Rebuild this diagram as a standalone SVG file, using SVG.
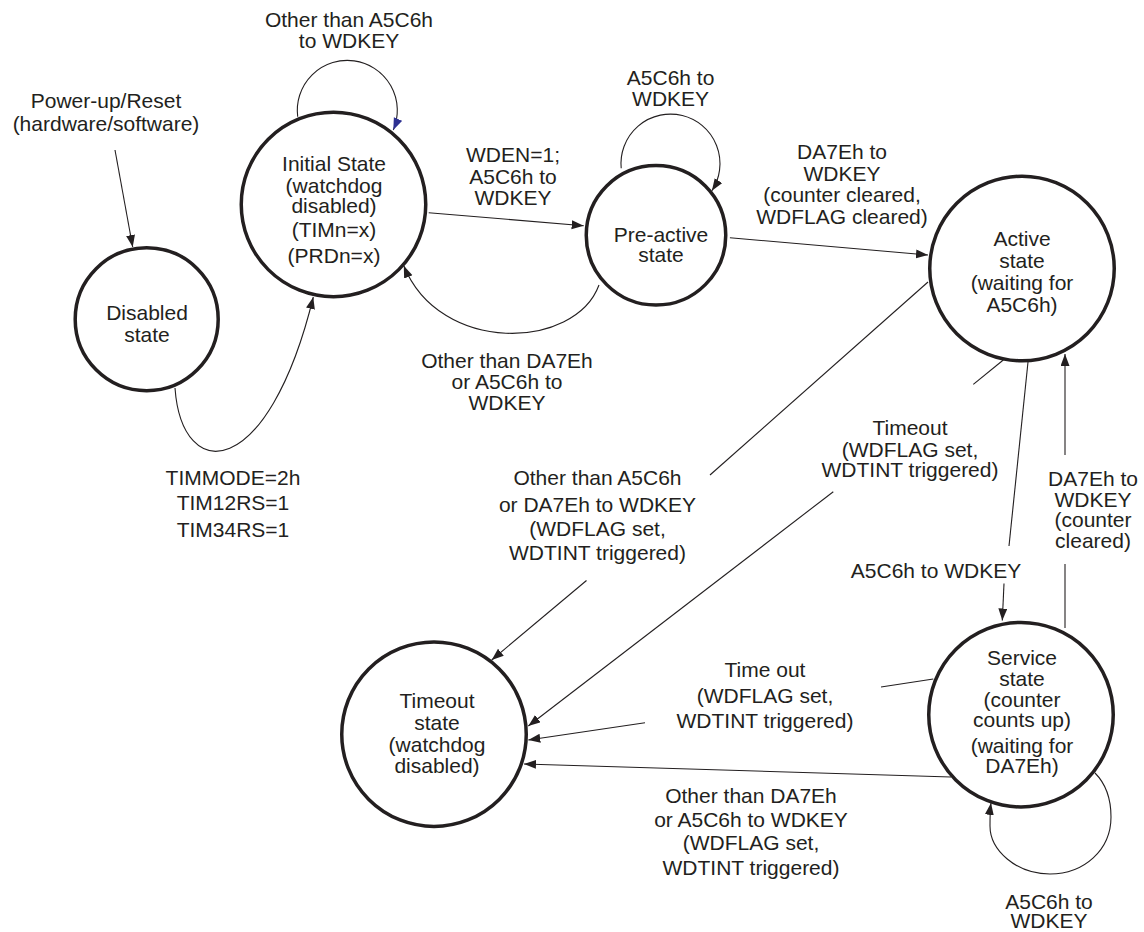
<svg xmlns="http://www.w3.org/2000/svg" width="1144" height="932" viewBox="0 0 1144 932">
<defs>
<style>
.st{fill:#ffffff;stroke:#231f20;stroke-width:3.5}
.ln{fill:none;stroke:#231f20;stroke-width:1.1}
.t{font-family:"Liberation Sans",Arial,sans-serif;font-size:21px;fill:#231f20;text-anchor:middle}
</style>
<marker id="ah" markerUnits="userSpaceOnUse" markerWidth="13" markerHeight="10" refX="12" refY="4.5" orient="auto"><path d="M0,0 L12,4.5 L0,9 z" fill="#231f20"/></marker>
<marker id="ahb" markerUnits="userSpaceOnUse" markerWidth="13" markerHeight="10" refX="12" refY="4.5" orient="auto"><path d="M0,0 L12,4.5 L0,9 z" fill="#2e3192"/></marker>
</defs>
<rect width="1144" height="932" fill="#ffffff"/>

<g id="connectors">
<line class="ln" x1="115" y1="150" x2="132.7" y2="247" marker-end="url(#ah)"/>
<path class="ln" d="M175,388 C182,485 268,482 313.3,297" marker-end="url(#ah)"/>
<path class="ln" d="M297.7,116.7 A50,50 0 1 1 393.3,130" marker-end="url(#ahb)"/>
<line class="ln" x1="428.7" y1="212.7" x2="583.7" y2="225.7" marker-end="url(#ah)"/>
<path class="ln" d="M599,285 C575,350 440,355 403.8,265.7" marker-end="url(#ah)"/>
<path class="ln" d="M621.2,168.3 A49.5,49.5 0 1 1 711.9,190.7" marker-end="url(#ah)"/>
<line class="ln" x1="729.9" y1="237.7" x2="928" y2="255" marker-end="url(#ah)"/>
<line class="ln" x1="928" y1="282" x2="710" y2="475"/>
<line class="ln" x1="586.5" y1="580.5" x2="491.7" y2="660" marker-end="url(#ah)"/>
<line class="ln" x1="1003.3" y1="360" x2="973.3" y2="384.4"/>
<line class="ln" x1="833.3" y1="491.7" x2="528.3" y2="726" marker-end="url(#ah)"/>
<line class="ln" x1="1028" y1="362" x2="1009" y2="546"/>
<line class="ln" x1="1004" y1="583.5" x2="1002.3" y2="620.5" marker-end="url(#ah)"/>
<line class="ln" x1="1065" y1="628" x2="1065" y2="564"/>
<line class="ln" x1="1065" y1="455" x2="1065" y2="354" marker-end="url(#ah)"/>
<line class="ln" x1="933.3" y1="679" x2="881" y2="687"/>
<line class="ln" x1="645" y1="722.7" x2="528.3" y2="740" marker-end="url(#ah)"/>
<line class="ln" x1="951" y1="777" x2="524" y2="764" marker-end="url(#ah)"/>
<path class="ln" d="M1095,773 C1107,785 1111,800 1111,817 C1111,850 1084,874 1050,874 C1016,874 990,850 990,826 C990,816 990,810 991,803" marker-end="url(#ah)"/>
</g>

<g id="disabled">
<circle class="st" cx="146.7" cy="319.2" r="71.5"/>
<text class="t"><tspan x="147" y="320">Disabled</tspan><tspan x="147" y="342">state</tspan></text>
</g>

<g id="initial">
<circle class="st" cx="333.5" cy="204.4" r="92.25"/>
<text class="t"><tspan x="334" y="171">Initial State</tspan><tspan x="334" y="193">(watchdog</tspan><tspan x="334" y="213">disabled)</tspan><tspan x="334" y="237">(TIMn=x)</tspan><tspan x="334" y="263">(PRDn=x)</tspan></text>
</g>

<g id="preactive">
<circle class="st" cx="656" cy="235.3" r="69.75"/>
<text class="t"><tspan x="661" y="242">Pre-active</tspan><tspan x="661" y="262">state</tspan></text>
</g>

<g id="active">
<circle class="st" cx="1022" cy="268.5" r="92.25"/>
<text class="t"><tspan x="1022" y="246">Active</tspan><tspan x="1022" y="268">state</tspan><tspan x="1022" y="290">(waiting for</tspan><tspan x="1022" y="312">A5C6h)</tspan></text>
</g>

<g id="service">
<circle class="st" cx="1021" cy="714.7" r="92.25"/>
<text class="t"><tspan x="1022" y="665">Service</tspan><tspan x="1022" y="686">state</tspan><tspan x="1022" y="707">(counter</tspan><tspan x="1022" y="727">counts up)</tspan><tspan x="1022" y="753">(waiting for</tspan><tspan x="1022" y="773">DA7Eh)</tspan></text>
</g>

<g id="timeout">
<circle class="st" cx="434" cy="734.2" r="92.25"/>
<text class="t"><tspan x="437" y="708">Timeout</tspan><tspan x="437" y="730">state</tspan><tspan x="437" y="752">(watchdog</tspan><tspan x="437" y="773">disabled)</tspan></text>
</g>

<g id="labels">
<text class="t"><tspan x="349" y="27">Other than A5C6h</tspan><tspan x="349" y="48">to WDKEY</tspan></text>
<text class="t"><tspan x="106" y="108">Power-up/Reset</tspan><tspan x="106" y="131">(hardware/software)</tspan></text>
<text class="t"><tspan x="513" y="162">WDEN=1;</tspan><tspan x="513" y="184">A5C6h to</tspan><tspan x="513" y="205">WDKEY</tspan></text>
<text class="t"><tspan x="670.6" y="85">A5C6h to</tspan><tspan x="670.6" y="106">WDKEY</tspan></text>
<text class="t"><tspan x="842" y="159">DA7Eh to</tspan><tspan x="842" y="181">WDKEY</tspan><tspan x="842" y="202">(counter cleared,</tspan><tspan x="842" y="224">WDFLAG cleared)</tspan></text>
<text class="t"><tspan x="507" y="368">Other than DA7Eh</tspan><tspan x="507" y="389">or A5C6h to</tspan><tspan x="507" y="410">WDKEY</tspan></text>
<text class="t"><tspan x="233" y="485">TIMMODE=2h</tspan><tspan x="233" y="510">TIM12RS=1</tspan><tspan x="233" y="537">TIM34RS=1</tspan></text>
<text class="t"><tspan x="597.5" y="485">Other than A5C6h</tspan><tspan x="597.5" y="512">or DA7Eh to WDKEY</tspan><tspan x="597.5" y="536">(WDFLAG set,</tspan><tspan x="597.5" y="560">WDTINT triggered)</tspan></text>
<text class="t"><tspan x="910" y="435">Timeout</tspan><tspan x="910" y="457">(WDFLAG set,</tspan><tspan x="910" y="477">WDTINT triggered)</tspan></text>
<text class="t"><tspan x="936" y="578">A5C6h to WDKEY</tspan></text>
<text class="t"><tspan x="1093" y="486">DA7Eh to</tspan><tspan x="1093" y="507">WDKEY</tspan><tspan x="1093" y="527">(counter</tspan><tspan x="1093" y="548">cleared)</tspan></text>
<text class="t"><tspan x="765" y="677">Time out</tspan><tspan x="765" y="703">(WDFLAG set,</tspan><tspan x="765" y="728">WDTINT triggered)</tspan></text>
<text class="t"><tspan x="751" y="803">Other than DA7Eh</tspan><tspan x="751" y="827">or A5C6h to WDKEY</tspan><tspan x="751" y="850">(WDFLAG set,</tspan><tspan x="751" y="875">WDTINT triggered)</tspan></text>
<text class="t"><tspan x="1049" y="909">A5C6h to</tspan><tspan x="1049" y="928">WDKEY</tspan></text>
</g>
</svg>
